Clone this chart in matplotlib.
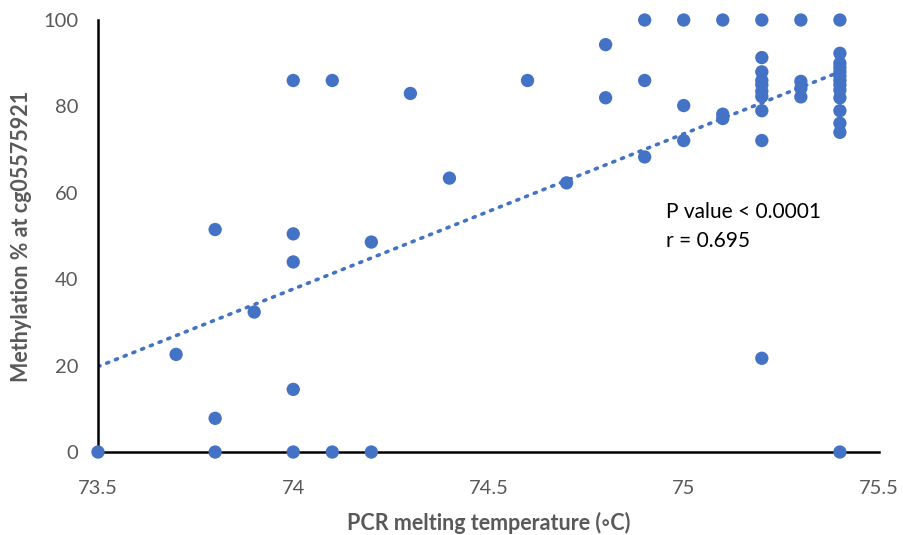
import numpy as np
import matplotlib.pyplot as plt

# PCR melting temperature vs methylation at cg05575921
temp = [73.5, 73.7, 73.8, 73.8, 73.8, 73.9,
        74.0, 74.0, 74.0, 74.0, 74.0, 74.1, 74.1, 74.2, 74.2,
        74.3, 74.4, 74.6, 74.7, 74.8, 74.8, 74.9, 74.9, 74.9,
        75.0, 75.0, 75.0, 75.1, 75.1, 75.1,
        75.2, 75.2, 75.2, 75.2, 75.2, 75.2, 75.2, 75.2, 75.2, 75.2,
        75.3, 75.3, 75.3, 75.3,
        75.4, 75.4, 75.4, 75.4, 75.4, 75.4, 75.4, 75.4, 75.4, 75.4,
        75.4, 75.4, 75.4, 75.4]
meth = [0, 22.6, 51.5, 7.8, 0, 32.4,
        86, 50.5, 44, 14.5, 0, 86, 0, 48.6, 0,
        83, 63.4, 86, 62.3, 94.3, 82, 100, 86, 68.3,
        100, 80.2, 72.1, 100, 78.2, 77.2,
        100, 91.3, 88, 86, 85, 83.5, 82.3, 79, 72.1, 21.7,
        100, 85.8, 84.2, 82.2,
        100, 92.3, 90, 89, 88, 87, 86, 85, 83.8, 82, 79, 76.1, 74, 0]

p_text = "P value < 0.0001"
r_text = "r = 0.695"

blue = "#4472C4"
grey = "#595959"
fonts = ["Lato", "DejaVu Sans"]
plt.rcParams["font.family"] = fonts

fig = plt.figure(figsize=(9.04, 5.35), dpi=100)
ax = fig.add_axes([0.1084, 0.1551, 0.8639, 0.8075])

# linear trendline, like excel
k, b = np.polyfit(temp, meth, 1)
tx = np.array([73.5, max(temp)])
ax.plot(tx, k * tx + b, color=blue, lw=2.6, linestyle=(0, (0.6, 2.0)),
        dash_capstyle="round", zorder=2)

ax.scatter(temp, meth, s=92, color=blue, edgecolors="none", zorder=3, clip_on=False)

ax.set_xlim(73.5, 75.5)
ax.set_ylim(0, 100)
ax.set_xticks([73.5, 74, 74.5, 75, 75.5])
ax.set_xticklabels(["73.5", "74", "74.5", "75", "75.5"])
ax.set_yticks([0, 20, 40, 60, 80, 100])
ax.tick_params(length=0, labelsize=14.5, labelcolor=grey)
ax.tick_params(axis="x", pad=20)
ax.tick_params(axis="y", pad=14)

for s in ["top", "right"]:
    ax.spines[s].set_visible(False)
for s in ["left", "bottom"]:
    ax.spines[s].set_linewidth(1.8)
    ax.spines[s].set_color("black")

ax.set_xlabel("PCR melting temperature (\u25e6C)", fontsize=15.5, fontweight="bold",
              color=grey, labelpad=11)
ax.set_ylabel("Methylation % at cg05575921", fontsize=15.5, fontweight="bold",
              color=grey, labelpad=8)

ax.text(74.955, 55.5, p_text, fontsize=15, color="black", va="center")
ax.text(74.955, 48.8, r_text, fontsize=15, color="black", va="center")

fig.savefig("out.png", dpi=100)
